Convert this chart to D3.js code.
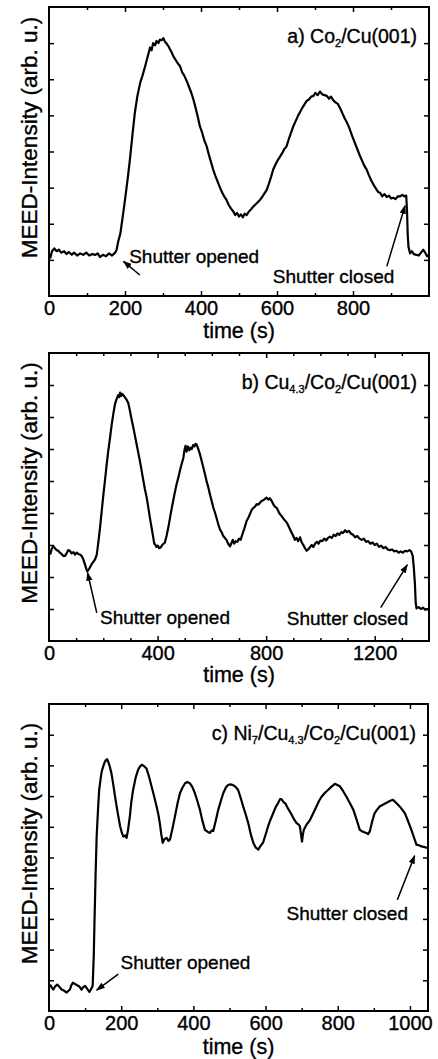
<!DOCTYPE html>
<html>
<head>
<meta charset="utf-8">
<script src="https://cdn.jsdelivr.net/npm/d3@7"></script>
<style>
  body { margin: 0; background: #fff; }
  svg { display: block; }
  text { font-family: "Liberation Sans", Arial, sans-serif; fill: #000; stroke: #000; stroke-width: 0.35; }
  .frame { fill: none; stroke: #000; stroke-width: 2; }
  .curve { fill: none; stroke: #000; stroke-width: 2.2; stroke-linejoin: round; }
  .axis path { display: none; }
  .axis line { stroke: #000; stroke-width: 1.5; }
  .arrow { stroke: #000; stroke-width: 1.5; }
</style>
</head>
<body>
<svg id="chart"></svg>
<script>
const width = 438;
const height = 1059;

// panel a) Co2/Cu(001)  [time s, intensity]
const aSeries = [[3,0.52],[8,0.62],[14,0.66],[20,0.62],[26,0.64],[32,0.60],[40,0.62],[46,0.58],[52,0.61],[60,0.57],[66,0.60],[74,0.56],[82,0.59],[90,0.57],[98,0.60],[106,0.56],[114,0.58],[122,0.57],[128,0.59],[134,0.54],[142,0.57],[150,0.55],[158,0.59],[166,0.56],[174,0.60],[178,0.64],
  [182,0.75],[188,0.87],[194,1.10],[200,1.33],[207,1.62],[213,1.89],[220,2.25],[226,2.54],[233,2.78],[240,2.95],[246,3.05],[253,3.18],[258,3.28],[262,3.36],[266,3.44],[270,3.40],[274,3.50],[279,3.47],[283,3.53],[288,3.50],[292,3.55],[297,3.54],[301,3.57],[305,3.52],[310,3.49],[314,3.46],[318,3.42],[322,3.38],[327,3.32],[333,3.27],[339,3.22],[345,3.18],[350,3.10],[356,3.05],[362,2.98],[368,2.90],[374,2.82],[380,2.72],[386,2.60],[392,2.47],[397,2.35],[403,2.26],[409,2.15],[415,2.07],[421,1.95],[426,1.86],[432,1.75],[438,1.66],[444,1.58],[450,1.50],[456,1.43],[461,1.38],[467,1.33],[473,1.26],[479,1.21],[485,1.17],[490,1.12],[495,1.15],[500,1.10],[505,1.13],[510,1.09],[515,1.14],[520,1.12],[526,1.17],[532,1.20],[538,1.24],[544,1.27],[550,1.30],[555,1.33],[561,1.37],[567,1.42],[573,1.47],[579,1.56],[585,1.66],[590,1.75],[596,1.82],[602,1.88],[608,1.93],[614,1.98],[620,2.04],[625,2.07],[631,2.17],[637,2.26],[643,2.35],[649,2.42],[655,2.49],[660,2.54],[666,2.60],[672,2.65],[678,2.70],[684,2.72],[690,2.76],[696,2.77],[701,2.81],[707,2.78],[713,2.83],[719,2.79],[725,2.78],[731,2.77],[737,2.73],[742,2.76],[748,2.71],[754,2.68],[760,2.66],[766,2.60],[772,2.53],[778,2.46],[784,2.40],[790,2.33],[796,2.24],[801,2.17],[807,2.09],[813,2.01],[819,1.93],[825,1.86],[830,1.80],[836,1.75],[842,1.67],[848,1.60],[854,1.54],[860,1.49],[866,1.44],[871,1.43],[877,1.38],[883,1.41],[889,1.37],[895,1.39],[900,1.35],[906,1.36],[912,1.34],[918,1.38],[924,1.38],[930,1.40],[935,1.38],[940,1.39],
  [942,1.20],[944,0.85],[946,0.68],[950,0.59],[955,0.62],[960,0.58],[967,0.57],[973,0.56],[979,0.60],[985,0.64],[990,0.60],[995,0.55],[1000,0.57]];

// panel b) Cu4.3/Co2/Cu(001)
const bSeries = [[4,1.35],[10,1.44],[16,1.48],[22,1.45],[28,1.42],[34,1.41],[40,1.38],[46,1.36],[53,1.33],[59,1.33],[65,1.37],[71,1.42],[77,1.41],[83,1.37],[90,1.39],[96,1.35],[102,1.38],[108,1.36],[114,1.35],[120,1.33],[126,1.28],[132,1.20],[138,1.12],[141,1.09],[147,1.12],[152,1.16],[157,1.20],[164,1.24],[170,1.28],[176,1.35],
  [182,1.55],[188,1.77],[194,2.02],[200,2.27],[206,2.50],[212,2.74],[218,2.96],[225,3.18],[231,3.38],[237,3.55],[243,3.70],[249,3.78],[255,3.84],[259,3.81],[262,3.88],[266,3.83],[270,3.86],[276,3.83],[281,3.80],[286,3.77],[292,3.72],[298,3.60],[304,3.47],[311,3.33],[317,3.20],[323,3.07],[329,2.94],[335,2.81],[341,2.67],[347,2.52],[353,2.38],[360,2.24],[366,2.08],[372,1.92],[378,1.77],[384,1.62],[388,1.52],[391,1.51],[396,1.47],[401,1.49],[406,1.45],[411,1.46],[417,1.50],[422,1.52],[427,1.54],[433,1.64],[440,1.78],[446,1.93],[452,2.07],[458,2.20],[464,2.33],[470,2.45],[477,2.56],[483,2.67],[489,2.77],[495,2.86],[499,2.98],[503,3.05],[507,2.96],[512,3.04],[517,2.98],[522,3.02],[526,3.00],[531,3.06],[536,3.04],[540,3.08],[544,3.07],[550,3.00],[556,2.92],[562,2.82],[568,2.72],[575,2.60],[581,2.49],[587,2.40],[593,2.29],[599,2.19],[605,2.09],[612,2.00],[618,1.91],[624,1.82],[630,1.74],[636,1.70],[642,1.64],[648,1.61],[654,1.58],[660,1.52],[667,1.48],[672,1.53],[677,1.58],[682,1.52],[688,1.56],[694,1.55],[700,1.60],[706,1.58],[712,1.66],[720,1.76],[728,1.875],[735,1.93],[741,1.99],[747,2.05],[753,2.08],[759,2.10],[765,2.14],[771,2.13],[777,2.16],[784,2.19],[790,2.20],[796,2.22],[802,2.24],[808,2.21],[814,2.23],[820,2.19],[826,2.14],[832,2.10],[839,2.08],[848,2.00],[857,1.95],[866,1.90],[876,1.85],[884,1.78],[893,1.70],[900,1.64],[906,1.58],[912,1.61],[918,1.56],[925,1.62],[931,1.54],[937,1.50],[943,1.45],[949,1.41],[955,1.43],[962,1.47],[968,1.50],[974,1.47],[980,1.52],[987,1.55],[993,1.52],[1000,1.57],[1007,1.56],[1014,1.60],[1021,1.57],[1028,1.61],[1035,1.63],[1042,1.61],[1049,1.66],[1056,1.64],[1063,1.68],[1070,1.66],[1077,1.70],[1084,1.69],[1091,1.73],[1098,1.70],[1105,1.72],[1112,1.68],[1120,1.66],[1128,1.62],[1136,1.64],[1144,1.60],[1152,1.58],[1160,1.60],[1168,1.55],[1176,1.56],[1184,1.52],[1192,1.54],[1200,1.50],[1208,1.52],[1216,1.47],[1224,1.49],[1232,1.45],[1240,1.47],[1248,1.43],[1256,1.42],[1264,1.43],[1272,1.40],[1280,1.41],[1288,1.38],[1296,1.40],[1304,1.38],[1312,1.41],[1320,1.40],[1328,1.42],[1334,1.40],
  [1340,1.33],[1344,1.15],[1348,0.90],[1351,0.60],[1354,0.51],[1362,0.53],[1370,0.50],[1378,0.52],[1386,0.49],[1394,0.50],[1400,0.49]];

// panel c) Ni7/Cu4.3/Co2/Cu(001)
const cSeries = [[3,0.43],[8,0.38],[12,0.35],[17,0.40],[23,0.43],[29,0.39],[35,0.35],[42,0.33],[49,0.30],[54,0.33],[58,0.35],[62,0.42],[66,0.46],[72,0.44],[78,0.42],[84,0.40],[90,0.35],[95,0.39],[100,0.41],[106,0.36],[112,0.31],[117,0.36],[121,0.41],
  [124,0.90],[126,1.44],[129,2.20],[132,2.84],[136,3.30],[139,3.60],[143,3.78],[146,3.90],[150,3.98],[154,4.05],[158,4.09],[161,4.10],[164,4.06],[168,3.99],[173,3.87],[178,3.69],[183,3.49],[190,3.24],[197,3.01],[202,2.90],[206,2.84],[211,2.86],[215,2.82],[219,2.95],[224,3.17],[228,3.40],[233,3.60],[240,3.80],[247,3.93],[252,3.98],[257,4.01],[263,3.99],[270,3.95],[277,3.82],[284,3.66],[291,3.50],[298,3.33],[303,3.20],[307,3.06],[311,2.88],[315,2.74],[320,2.80],[326,2.82],[331,2.77],[335,2.79],[342,2.97],[349,3.17],[356,3.38],[363,3.55],[370,3.64],[377,3.71],[383,3.73],[390,3.71],[397,3.65],[404,3.55],[411,3.42],[418,3.28],[425,3.10],[432,2.95],[439,2.92],[446,2.90],[451,2.94],[455,2.93],[462,3.10],[469,3.28],[476,3.42],[483,3.55],[490,3.64],[496,3.68],[503,3.69],[510,3.68],[517,3.65],[524,3.60],[531,3.47],[538,3.33],[545,3.20],[552,3.06],[559,2.88],[566,2.74],[573,2.66],[580,2.63],[586,2.69],[593,2.74],[600,2.87],[607,3.01],[614,3.12],[621,3.22],[628,3.32],[635,3.39],[640,3.45],[644,3.45],[650,3.40],[655,3.38],[662,3.30],[668,3.24],[672,3.20],[679,3.12],[686,3.06],[691,3.04],[695,3.01],[698,2.88],[701,2.76],[703,2.86],[706,2.95],[713,3.03],[723,3.11],[732,3.22],[741,3.33],[748,3.42],[755,3.49],[764,3.55],[773,3.60],[782,3.65],[792,3.70],[799,3.68],[806,3.66],[815,3.58],[824,3.49],[833,3.39],[843,3.28],[852,3.12],[861,2.95],[870,2.92],[879,2.90],[884,2.88],[889,2.93],[895,3.08],[902,3.22],[909,3.28],[916,3.33],[925,3.36],[935,3.39],[944,3.42],[953,3.44],[960,3.40],[967,3.36],[976,3.30],[986,3.22],[995,3.09],[1004,2.95],[1011,2.83],[1018,2.71],[1025,2.70],[1032,2.68],[1040,2.67],[1050,2.65]];

// axes
const aXDomain = [0, 1000], bXDomain = [0, 1400], cXDomain = [0, 1050];
const aYDomain = [0, 4],    bYDomain = [0, 4.5],  cYDomain = [0, 5];
const aXLabels = [0, 200, 400, 600, 800];
const bXLabels = [0, 400, 800, 1200];
const cXLabels = [0, 200, 400, 600, 800, 1000];
const aYTicks = [0.5, 1, 1.5, 2, 2.5, 3, 3.5];
const bYTicks = [0.5, 1, 1.5, 2, 2.5, 3, 3.5, 4];
const cYTicks = [0.5, 1, 1.5, 2, 2.5, 3, 3.5, 4, 4.5];

// titles: [main, sub, main, sub, ...]
const aTitle = ["a) Co", "2", "/Cu(001)"];
const bTitle = ["b) Cu", "4.3", "/Co", "2", "/Cu(001)"];
const cTitle = ["c) Ni", "7", "/Cu", "4.3", "/Co", "2", "/Cu(001)"];

// annotations: text, text x/y, arrow tail x/y, arrow head x/y (data units)
const aNotes = [
  ["Shutter opened", 211, 0.46, 239, 0.29, 196, 0.48],
  ["Shutter closed", 589, 0.18, 889, 0.41, 937, 1.25]
];
const bNotes = [
  ["Shutter opened", 188, 0.26, 176, 0.44, 142, 1.07],
  ["Shutter closed", 876, 0.25, 1222, 0.52, 1320, 1.19]
];
const cNotes = [
  ["Shutter opened", 198, 0.69, 192, 0.60, 132, 0.34],
  ["Shutter closed", 658, 1.49, 965, 1.81, 1013, 2.53]
];

const panels = [
  {top: 7,   bottom: 296, right: 429, data: aSeries, xd: aXDomain, yd: aYDomain, xl: aXLabels, yt: aYTicks, title: aTitle, notes: aNotes, lab: 42},
  {top: 353, bottom: 641, right: 429, data: bSeries, xd: bXDomain, yd: bYDomain, xl: bXLabels, yt: bYTicks, title: bTitle, notes: bNotes, lab: 41},
  {top: 704, bottom: 1011, right: 428, data: cSeries, xd: cXDomain, yd: cYDomain, xl: cXLabels, yt: cYTicks, title: cTitle, notes: cNotes, lab: 43}
];
const left = 49;
const xStep = 100;

const svg = d3.select("#chart").attr("width", width).attr("height", height);

svg.append("defs").append("marker")
  .attr("id", "head")
  .attr("viewBox", "0 0 10 10")
  .attr("refX", 9).attr("refY", 5)
  .attr("markerWidth", 6).attr("markerHeight", 6)
  .attr("markerUnits", "strokeWidth")
  .attr("orient", "auto")
  .append("path").attr("d", "M0,1.5L10,5L0,8.5Z").attr("fill", "#000");

panels.forEach(p => {
  const x = d3.scaleLinear().domain(p.xd).range([left, p.right]);
  const y = d3.scaleLinear().domain(p.yd).range([p.bottom, p.top]);
  const g = svg.append("g");

  const xTicks = d3.range(p.xd[0] + xStep, p.xd[1], xStep);
  const minorX = xTicks.filter(t => !p.xl.includes(t));
  const majorX = p.xl.filter(t => t > p.xd[0]);

  // bottom labels
  g.append("g").attr("class", "axis")
    .attr("transform", `translate(0,${p.bottom})`)
    .call(d3.axisBottom(x).tickValues(p.xl).tickSize(0).tickPadding(5).tickFormat(d3.format("d")))
    .selectAll("text").style("font-size", "20px");

  [[d3.axisBottom, p.bottom], [d3.axisTop, p.top]].forEach(([ax, pos]) => {
    g.append("g").attr("class", "axis").attr("transform", `translate(0,${pos})`)
      .call(ax(x).tickValues(majorX).tickSize(-5).tickFormat(""));
    g.append("g").attr("class", "axis").attr("transform", `translate(0,${pos})`)
      .call(ax(x).tickValues(minorX).tickSize(-3).tickFormat(""));
  });
  [[d3.axisLeft, left], [d3.axisRight, p.right]].forEach(([ax, pos]) => {
    g.append("g").attr("class", "axis").attr("transform", `translate(${pos},0)`)
      .call(ax(y).tickValues(p.yt).tickSize(-5).tickFormat(""));
  });

  g.append("rect").attr("class", "frame")
    .attr("x", left).attr("y", p.top)
    .attr("width", p.right - left).attr("height", p.bottom - p.top);

  const line = d3.line().x(d => x(d[0])).y(d => y(d[1]));
  g.append("path").attr("class", "curve").attr("d", line(p.data));

  // title with subscripts
  const t = g.append("text")
    .attr("x", p.right - 12).attr("y", p.top + 36)
    .attr("text-anchor", "end")
    .style("font-size", "19.5px");
  p.title.forEach((s, i) => {
    const sub = i % 2 === 1;
    t.append("tspan")
      .attr("dy", sub ? 4 : (i > 0 ? -4 : 0))
      .style("font-size", sub ? "11px" : "19.5px")
      .text(s);
  });

  // annotations
  p.notes.forEach(n => {
    g.append("text").attr("x", x(n[1])).attr("y", y(n[2]))
      .style("font-size", "19px").text(n[0]);
    g.append("line").attr("class", "arrow")
      .attr("x1", x(n[3])).attr("y1", y(n[4]))
      .attr("x2", x(n[5])).attr("y2", y(n[6]))
      .attr("marker-end", "url(#head)");
  });

  g.append("text")
    .attr("x", (left + p.right) / 2).attr("y", p.bottom + p.lab)
    .attr("text-anchor", "middle")
    .style("font-size", "21.5px")
    .text("time (s)");

  g.append("text")
    .attr("transform", `translate(37,${(p.top + p.bottom) / 2 - 14}) rotate(-90)`)
    .attr("text-anchor", "middle")
    .style("font-size", "22.5px")
    .text("MEED-Intensity (arb. u.)");
});
</script>
</body>
</html>
